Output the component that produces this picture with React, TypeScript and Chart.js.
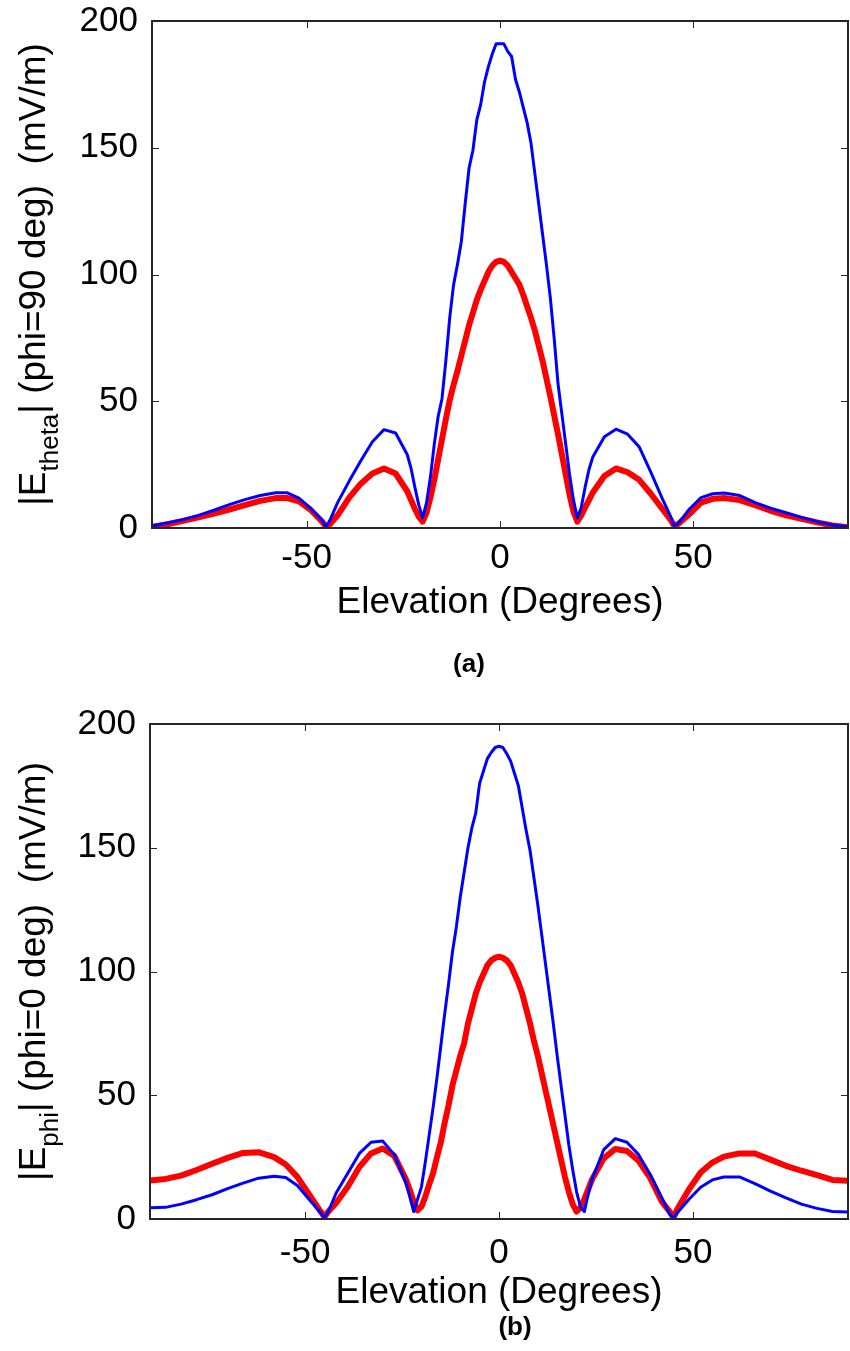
import React, { useEffect, useRef } from "react";
import { Chart, registerables } from "chart.js";

Chart.register(...registerables);

// Elevation angles (degrees)
const elevation = [
  -90, -86, -82, -78, -74, -70, -66, -62, -58, -55, -52, -49, -46, -45, -44,
  -42, -39, -36, -33, -30, -27, -24, -23, -22, -21, -20,
  -19, -18, -17, -16, -15, -14, -13, -12, -11, -10, -9, -8, -7, -6, -5, -4, -3, -2, -1,
  0, 1, 2, 3, 4, 5, 6, 7, 8, 9, 10, 11, 12, 13, 14, 15, 16, 17, 18, 19, 20,
  21, 22, 23, 24, 27, 30, 33, 36, 39, 42, 44, 45, 46, 49, 52, 55, 58, 62, 66, 70, 74, 78, 82, 86, 90,
];

// (a) |E_theta| (phi = 90 deg), blue thin curve
const thetaBlue = [
  0.8, 2, 3.3, 5, 7, 9.2, 11.2, 12.8, 13.9, 13.9, 11.8, 7.8, 3, 0.5, 3,
  10, 18.5, 26.5, 34, 38.8, 37.5, 29, 23.5, 16, 9, 4,
  10, 20, 33, 44, 51, 66, 83, 96, 104, 113, 128, 142, 149, 161, 167, 176, 182, 187, 191,
  191, 191, 188, 186, 177, 172, 166, 160, 152, 140, 128, 116, 104, 91, 75, 57, 45, 33, 21, 11, 4,
  8, 16, 23, 28, 36, 39, 37, 32, 22, 11.5, 5, 1, 1.5, 7.5, 12, 13.5, 13.8, 12.8, 10, 7.8, 6, 4.2, 2.5, 1.2, 0.5,
];

// (a) |E_theta| (phi = 90 deg), red thick curve
const thetaRed = [
  0.5, 1.5, 2.8, 4.2, 5.7, 7.3, 9, 10.7, 11.8, 11.8, 10.5, 7.2, 2.5, 0.5, 1.5,
  5, 12, 17.5, 21.5, 23.5, 21.5, 14.5, 11, 7.5, 4.5, 2.5,
  6, 12, 19, 27, 35, 43, 50.5, 56.5, 62, 68, 74, 80, 85, 90, 94, 97.5, 101, 103.5, 105,
  105.5, 105, 103.5, 101, 98.5, 96, 92, 87.5, 83, 78, 72, 66, 59, 52, 44.5, 37, 29, 21, 13, 6.5, 2.5,
  5, 8, 11, 14, 20.5, 23.5, 22, 19, 13.5, 7.5, 3.5, 1, 1.5, 5.5, 10, 11.5, 11.8, 11, 9, 6.8, 5, 3.6, 2.2, 1, 0.3,
];

// (b) |E_phi| (phi = 0 deg), blue thin curve
const phiBlue = [
  4.5, 4.7, 6, 7.8, 9.8, 12.3, 14.5, 16.5, 17.3, 16.8, 13.5, 8, 2.5, 0.5, 3,
  10.5, 18.5, 26.5, 31, 31.5, 26, 14.5, 9, 3, 8, 13,
  23, 34, 45, 57, 70, 83, 95, 108, 118, 130, 140, 150, 158, 164, 176, 181, 186, 188.5, 190.5,
  191, 190.5, 188, 185, 180, 175, 166, 157, 149, 138, 127, 115, 103, 91, 79, 66, 54, 42, 30, 20, 11,
  5, 3, 10, 16, 28, 32.5, 31, 26, 18, 8.5, 2, 0.5, 2.5, 8, 12.8, 15.8, 17, 17, 14.3, 11.3, 8.5, 6, 4.3, 3, 2.8,
];

// (b) |E_phi| (phi = 0 deg), red thick curve
const phiRed = [
  15.5, 16.2, 17.5, 19.8, 22.3, 24.7, 26.7, 27, 25, 22, 17, 10, 3, 0.8, 3,
  6.5, 13, 21, 26.5, 28.5, 25.5, 16, 11.7, 7, 3.5, 5,
  9, 14, 18.5, 25, 31, 39, 46, 54, 60, 66, 71, 79, 85, 91, 95.5, 99, 102.5, 104.5, 105.5,
  106, 105.5, 104.5, 102.5, 99, 95.5, 91, 85, 79, 72, 66, 59, 52, 45, 38, 31, 24, 17, 11, 6, 3,
  4.5, 8, 12, 16, 24.5, 28.3, 27.5, 23.5, 16.5, 7, 3, 0.5, 4, 12, 18.8, 22.8, 25.2, 26.5, 26.5, 24, 21.5, 19.5, 17.7, 15.8, 15.5,
];

const xTickValues = [-50, 0, 50];
const yTickValues = [0, 50, 100, 150, 200];
const xTitle = "Elevation (Degrees)";
const yTitleA = [
  { text: "|E", sub: false },
  { text: "theta", sub: true },
  { text: "| (phi=90 deg)  (mV/m)", sub: false },
];
const yTitleB = [
  { text: "|E", sub: false },
  { text: "phi", sub: true },
  { text: "| (phi=0 deg)  (mV/m)", sub: false },
];

const FONT = '"Liberation Sans", Arial, Helvetica, sans-serif';

type Part = { text: string; sub: boolean };

type PanelProps = {
  top: number;
  height: number;
  plotLeft: number;
  plotRight: number;
  plotTop: number;
  plotBottom: number;
  blue: number[];
  red: number[];
  yTitle: Part[];
  caption: string;
  captionX: number;
  captionY: number;
  xTitleBaseline: number;
  xTickPad: number;
};

function Panel(p: PanelProps) {
  const ref = useRef<HTMLCanvasElement | null>(null);

  useEffect(() => {
    const canvas = ref.current;
    if (!canvas) return;
    const toPts = (vals: number[]) => elevation.map((x, i) => ({ x, y: vals[i] }));

    const decor = {
      id: "decor",
      afterDraw(chart: any) {
        const { ctx, chartArea: a, scales } = chart;
        const xs = scales.x;
        const ys = scales.y;
        ctx.save();
        // inward tick marks on all four sides
        ctx.strokeStyle = "#262626";
        ctx.lineWidth = 1;
        ctx.beginPath();
        xs.ticks.forEach((t: any) => {
          const px = Math.round(xs.getPixelForValue(t.value)) + 0.5;
          ctx.moveTo(px, a.bottom);
          ctx.lineTo(px, a.bottom - 7);
          ctx.moveTo(px, a.top);
          ctx.lineTo(px, a.top + 7);
        });
        ys.ticks.forEach((t: any) => {
          const py = Math.round(ys.getPixelForValue(t.value)) + 0.5;
          ctx.moveTo(a.left, py);
          ctx.lineTo(a.left + 7, py);
          ctx.moveTo(a.right, py);
          ctx.lineTo(a.right - 7, py);
        });
        ctx.stroke();
        // box
        ctx.lineWidth = 2;
        ctx.strokeRect(a.left, a.top, a.right - a.left, a.bottom - a.top);

        ctx.fillStyle = "#000";
        // x title
        ctx.font = `37px ${FONT}`;
        ctx.textAlign = "center";
        ctx.textBaseline = "alphabetic";
        ctx.fillText(xTitle, (a.left + a.right) / 2, p.xTitleBaseline);

        // y title with subscript, rotated
        const cy = (a.top + a.bottom) / 2;
        ctx.save();
        ctx.translate(45, cy);
        ctx.rotate(-Math.PI / 2);
        const mainFont = `37px ${FONT}`;
        const subFont = `26px ${FONT}`;
        let total = 0;
        const widths = p.yTitle.map((part) => {
          ctx.font = part.sub ? subFont : mainFont;
          const w = ctx.measureText(part.text).width;
          total += w;
          return w;
        });
        let x = -total / 2;
        ctx.textAlign = "left";
        p.yTitle.forEach((part, i) => {
          ctx.font = part.sub ? subFont : mainFont;
          ctx.fillText(part.text, x, part.sub ? 13 : 0);
          x += widths[i];
        });
        ctx.restore();

        // caption
        ctx.font = `bold 26px ${FONT}`;
        ctx.textAlign = "center";
        ctx.textBaseline = "middle";
        ctx.fillText(p.caption, p.captionX, p.captionY);
        ctx.restore();
      },
    };

    const zeroPad = (s: any) => {
      s.paddingTop = 0;
      s.paddingBottom = 0;
      s.paddingLeft = 0;
      s.paddingRight = 0;
    };

    const chart = new Chart(canvas, {
      type: "line",
      data: {
        datasets: [
          {
            data: toPts(p.blue),
            borderColor: "#0000ff",
            borderWidth: 3,
            pointRadius: 0,
            tension: 0,
            fill: false,
          },
          {
            data: toPts(p.red),
            borderColor: "#ff0000",
            borderWidth: 6,
            pointRadius: 0,
            tension: 0,
            fill: false,
          },
        ],
      },
      options: {
        animation: false,
        responsive: false,
        maintainAspectRatio: false,
        layout: {
          padding: { top: p.plotTop, right: 850 - p.plotRight, left: 0, bottom: 0 },
        },
        plugins: {
          legend: { display: false },
          tooltip: { enabled: false },
          title: { display: false },
        },
        elements: { line: { borderJoinStyle: "round", borderCapStyle: "round" } },
        scales: {
          x: {
            type: "linear",
            min: -90,
            max: 90,
            grid: { display: false, drawTicks: false },
            border: { display: false },
            ticks: {
              autoSkip: false,
              maxRotation: 0,
              minRotation: 0,
              padding: p.xTickPad,
              color: "#000",
              font: { size: 35, family: FONT },
              callback: (v: any) => String(v),
            },
            afterBuildTicks: (s: any) => {
              s.ticks = xTickValues.map((v) => ({ value: v }));
            },
            afterFit: (s: any) => {
              s.height = p.height - p.plotBottom;
              zeroPad(s);
            },
          },
          y: {
            type: "linear",
            min: 0,
            max: 200,
            grid: { display: false, drawTicks: false },
            border: { display: false },
            ticks: {
              padding: 14,
              color: "#000",
              font: { size: 35, family: FONT },
              callback: (v: any) => String(v),
            },
            afterBuildTicks: (s: any) => {
              s.ticks = yTickValues.map((v) => ({ value: v }));
            },
            afterFit: (s: any) => {
              s.width = p.plotLeft;
              zeroPad(s);
            },
          },
        },
      },
      plugins: [decor],
    } as any);

    return () => chart.destroy();
  }, []);

  return (
    <canvas
      ref={ref}
      width={850}
      height={p.height}
      style={{ position: "absolute", left: 0, top: p.top, width: 850, height: p.height, display: "block" }}
    />
  );
}

export default function App() {
  return (
    <div style={{ position: "absolute", left: 0, top: 0, width: 850, height: 1351, background: "#fff" }}>
      <Panel
        top={0}
        height={700}
        plotLeft={152}
        plotRight={848}
        plotTop={21}
        plotBottom={528}
        blue={thetaBlue}
        red={thetaRed}
        yTitle={yTitleA}
        caption="(a)"
        captionX={469}
        captionY={665}
        xTitleBaseline={613}
        xTickPad={9}
      />
      <Panel
        top={700}
        height={651}
        plotLeft={150}
        plotRight={848}
        plotTop={24}
        plotBottom={519}
        blue={phiBlue}
        red={phiRed}
        yTitle={yTitleB}
        caption="(b)"
        captionX={515}
        captionY={628}
        xTitleBaseline={603}
        xTickPad={13}
      />
    </div>
  );
}
